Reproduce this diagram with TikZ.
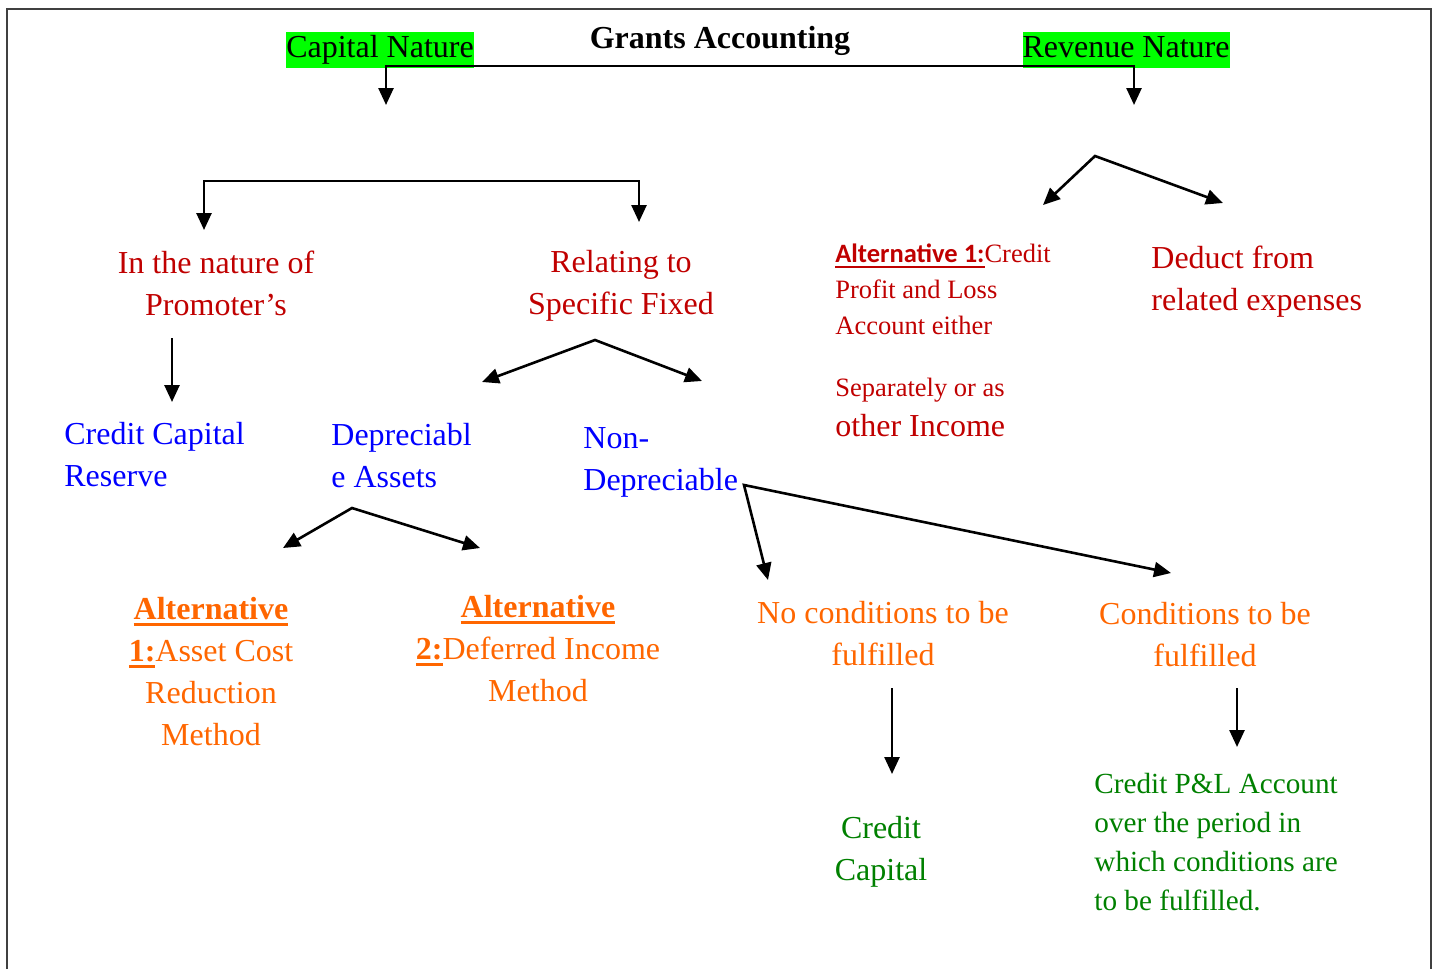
\documentclass[tikz,border=0pt]{standalone}
\usepackage{fontspec}
\setmainfont{Liberation Serif}
\newfontfamily\calib{Carlito}
\usetikzlibrary{arrows.meta}
\definecolor{dred}{HTML}{C00000}
\definecolor{myblue}{HTML}{0000FF}
\definecolor{myorange}{HTML}{FF6600}
\definecolor{mygreen}{HTML}{008000}
\definecolor{hl}{HTML}{00FF00}
\newcommand\thul[2]{\setbox0\hbox{#2}\rlap{\rule[-3pt]{\wd0}{#1}}\box0}
\begin{document}
\begin{tikzpicture}[x=0.5pt,y=-0.5pt,
  tip/.style={-{Triangle[length=8.5pt,width=7.5pt]}, line width=1.3pt},
  twotip/.style={{Triangle[length=8.5pt,width=7.5pt]}-{Triangle[length=8.5pt,width=7.5pt]}, line width=1.3pt, line join=miter},
  big/.style={inner sep=0pt, font=\fontsize{16}{21}\selectfont},
  hlbox/.style={fill=hl, inner xsep=0pt, inner ysep=0pt, text height=12.5pt, text depth=5.5pt, font=\fontsize{16}{19}\selectfont},
  redtxt/.style={big, text=dred, align=center},
  bluetxt/.style={big, text=myblue, align=left, anchor=west},
  orgtxt/.style={big, text=myorange, align=center},
]
\useasboundingbox (0,0) rectangle (1438,969);
\draw[line width=0.6pt, black!75] (7,969) -- (7,9) -- (1431,9) -- (1431,969);

% top
\node[font=\fontsize{16}{19}\selectfont\bfseries, inner sep=0pt, anchor=base] (title) at (720,48) {Grants Accounting};
\node[hlbox, anchor=base] (cap) at (380,57) {Capital Nature};
\node[hlbox, anchor=base] (rev) at (1126,57) {Revenue Nature};
\coordinate (capA) at (386,105);
\coordinate (capC) at (386,66);
\coordinate (revC) at (1134,66);
\coordinate (revA) at (1134,105);
\draw[twotip] (capA) -- (capC) -- (revC) -- (revA);

% capital branch
\coordinate (natA) at (204,230);
\coordinate (natC) at (204,181);
\coordinate (relC) at (639,181);
\coordinate (relA) at (639,222);
\draw[twotip] (natA) -- (natC) -- (relC) -- (relA);

\node[redtxt] (nature) at (216,283) {In the nature of\\Promoter’s};
\node[redtxt] (relating) at (621,286) {Relating to\\Specific Fixed};

\coordinate (promS) at (172,338);
\coordinate (promE) at (172,402);
\draw[tip] (promS) -- (promE);

\node[bluetxt] (ccr) at (64,455) {Credit Capital\\Reserve};
\node[bluetxt] (dep) at (331,456) {Depreciabl\\e Assets};
\node[bluetxt] (nondep) at (583,462) {Non-\\Depreciable};

\coordinate (relL) at (482,382);
\coordinate (relP) at (595,340);
\coordinate (relR) at (702,381);
\draw[twotip] (relL) -- (relP) -- (relR);

\coordinate (depL) at (283,548);
\coordinate (depP) at (352,508);
\coordinate (depR) at (480,548);
\draw[twotip] (depL) -- (depP) -- (depR);

\node[orgtxt] (alt1) at (211,672) {\thul{1.4pt}{\textbf{Alternative}}\\\thul{1.4pt}{\textbf{1:}}Asset Cost\\Reduction\\Method};
\node[orgtxt] (alt2) at (538,649) {\thul{1.4pt}{\textbf{Alternative}}\\\thul{1.4pt}{\textbf{2:}}Deferred Income\\Method};

\coordinate (ndL) at (768,580);
\coordinate (ndP) at (744,485);
\coordinate (ndR) at (1171,573);
\draw[twotip] (ndL) -- (ndP) -- (ndR);

\node[orgtxt] (nocond) at (883,634) {No conditions to be\\fulfilled};
\node[orgtxt] (cond) at (1205,635) {Conditions to be\\fulfilled};

\coordinate (ncS) at (892,688);
\coordinate (ncE) at (892,774);
\draw[tip] (ncS) -- (ncE);
\coordinate (cS) at (1237,688);
\coordinate (cE) at (1237,747);
\draw[tip] (cS) -- (cE);

\node[big, text=mygreen, align=center] (cc) at (881,852) {Credit\\Capital};
\node[inner sep=0pt, text=mygreen, align=left, anchor=west, font=\fontsize{14.6}{19.5}\selectfont] (cpl) at (1094,842) {Credit P\&L Account\\over the period in\\which conditions are\\to be fulfilled.};

% revenue branch
\coordinate (rvL) at (1043,205);
\coordinate (rvP) at (1095,156);
\coordinate (rvR) at (1223,203);
\draw[twotip] (rvL) -- (rvP) -- (rvR);

\node[inner sep=0pt, text=dred, align=left, anchor=north west, font=\fontsize{13.25}{18}\selectfont] (revalt) at (835,243)
 {\thul{1pt}{\calib\bfseries Alternative 1:}Credit\\Profit and Loss\\Account either\\[13pt]Separately or as\\[2pt]{\fontsize{16}{19}\selectfont other Income}};
\node[big, text=dred, align=left, anchor=west] (deduct) at (1151,282) {Deduct from\\related expenses};
\end{tikzpicture}
\end{document}
